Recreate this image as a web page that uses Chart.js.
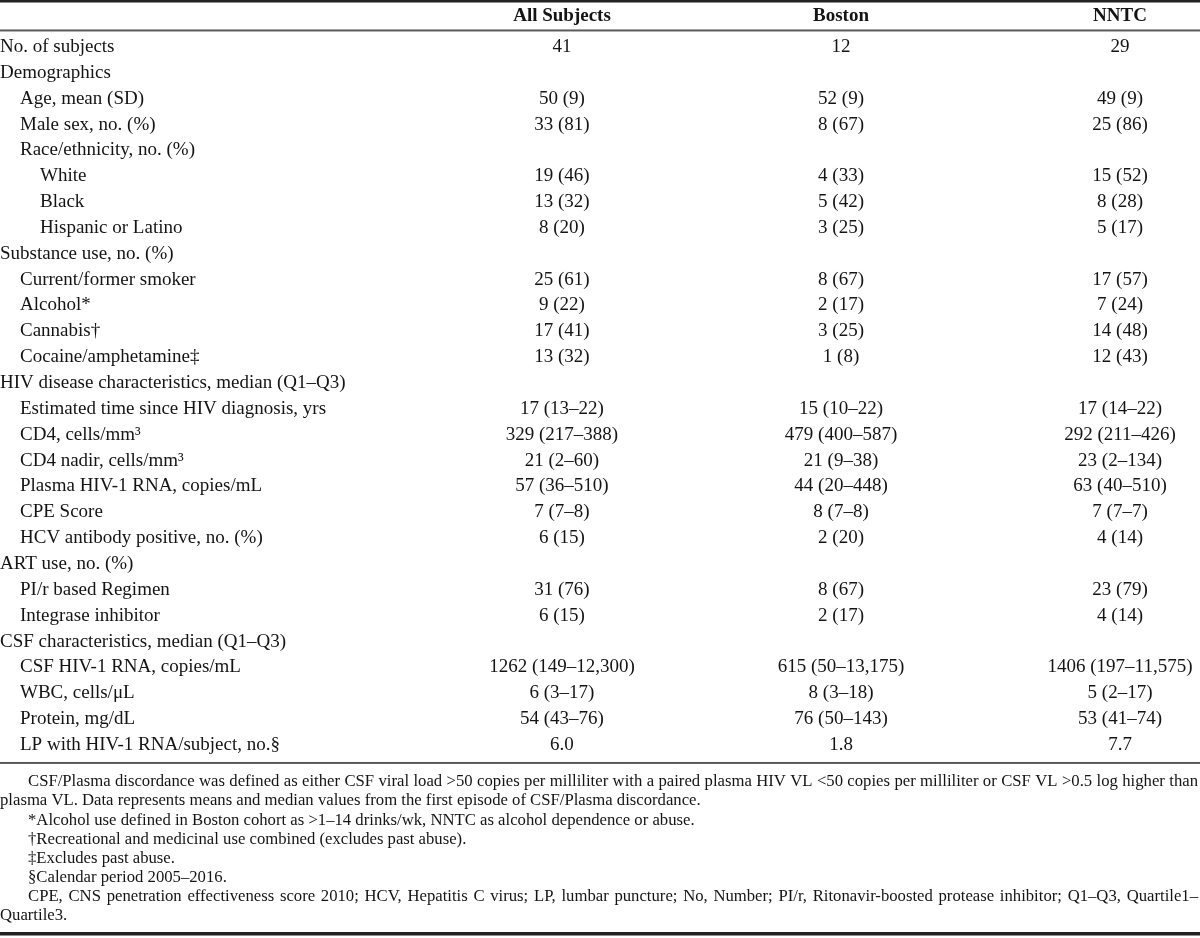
<!DOCTYPE html>
<html>
<head>
<meta charset="utf-8">
<script src="https://cdn.jsdelivr.net/npm/chart.js@4"></script>
<style>
  body { margin: 0; background: #fff; }
  canvas { display: block; }
</style>
</head>
<body>
<canvas id="tableChart" width="1200" height="938"></canvas>
<script>
// table content
const columnHeaders = ['All Subjects', 'Boston', 'NNTC'];

const rowLabels = [
  'No. of subjects',
  'Demographics',
  'Age, mean (SD)',
  'Male sex, no. (%)',
  'Race/ethnicity, no. (%)',
  'White',
  'Black',
  'Hispanic or Latino',
  'Substance use, no. (%)',
  'Current/former smoker',
  'Alcohol*',
  'Cannabis†',
  'Cocaine/amphetamine‡',
  'HIV disease characteristics, median (Q1–Q3)',
  'Estimated time since HIV diagnosis, yrs',
  'CD4, cells/mm³',
  'CD4 nadir, cells/mm³',
  'Plasma HIV-1 RNA, copies/mL',
  'CPE Score',
  'HCV antibody positive, no. (%)',
  'ART use, no. (%)',
  'PI/r based Regimen',
  'Integrase inhibitor',
  'CSF characteristics, median (Q1–Q3)',
  'CSF HIV-1 RNA, copies/mL',
  'WBC, cells/μL',
  'Protein, mg/dL',
  'LP with HIV-1 RNA/subject, no.§'
];

// 0 = section, 1 = item, 2 = sub-item
const rowLevels = [0, 0, 1, 1, 1, 2, 2, 2, 0, 1, 1, 1, 1, 0, 1, 1, 1, 1, 1, 1, 0, 1, 1, 0, 1, 1, 1, 1];

const allSubjects = [
  '41', '', '50 (9)', '33 (81)', '', '19 (46)', '13 (32)', '8 (20)',
  '', '25 (61)', '9 (22)', '17 (41)', '13 (32)',
  '', '17 (13–22)', '329 (217–388)', '21 (2–60)', '57 (36–510)', '7 (7–8)', '6 (15)',
  '', '31 (76)', '6 (15)',
  '', '1262 (149–12,300)', '6 (3–17)', '54 (43–76)', '6.0'
];
const boston = [
  '12', '', '52 (9)', '8 (67)', '', '4 (33)', '5 (42)', '3 (25)',
  '', '8 (67)', '2 (17)', '3 (25)', '1 (8)',
  '', '15 (10–22)', '479 (400–587)', '21 (9–38)', '44 (20–448)', '8 (7–8)', '2 (20)',
  '', '8 (67)', '2 (17)',
  '', '615 (50–13,175)', '8 (3–18)', '76 (50–143)', '1.8'
];
const nntc = [
  '29', '', '49 (9)', '25 (86)', '', '15 (52)', '8 (28)', '5 (17)',
  '', '17 (57)', '7 (24)', '14 (48)', '12 (43)',
  '', '17 (14–22)', '292 (211–426)', '23 (2–134)', '63 (40–510)', '7 (7–7)', '4 (14)',
  '', '23 (79)', '4 (14)',
  '', '1406 (197–11,575)', '5 (2–17)', '53 (41–74)', '7.7'
];

const footnotes = [
  ['CSF/Plasma discordance was defined as either CSF viral load >50 copies per milliliter with a paired plasma HIV VL <50 copies per milliliter or CSF VL >0.5 log higher than',
   'plasma VL. Data represents means and median values from the first episode of CSF/Plasma discordance.'],
  ['*Alcohol use defined in Boston cohort as >1–14 drinks/wk, NNTC as alcohol dependence or abuse.'],
  ['†Recreational and medicinal use combined (excludes past abuse).'],
  ['‡Excludes past abuse.'],
  ['§Calendar period 2005–2016.'],
  ['CPE, CNS penetration effectiveness score 2010; HCV, Hepatitis C virus; LP, lumbar puncture; No, Number; PI/r, Ritonavir-boosted protease inhibitor; Q1–Q3, Quartile1–',
   'Quartile3.']
];

const cells = [];
[allSubjects, boston, nntc].forEach((col, c) => {
  col.forEach((v, r) => {
    if (v !== '') cells.push({ x: c + 1, y: r, label: v });
  });
});

const serif = '"Liberation Serif", "Times New Roman", serif';
const ink = '#141414';

// draws a justified line between x0 and x1
function justifyLine(ctx, text, x0, x1, y) {
  const words = text.split(' ');
  const wordsW = words.reduce((s, w) => s + ctx.measureText(w).width, 0);
  const gap = (x1 - x0 - wordsW) / (words.length - 1);
  let x = x0;
  words.forEach(w => {
    ctx.fillText(w, x, y);
    x += ctx.measureText(w).width + gap;
  });
}

const tablePlugin = {
  id: 'tableText',
  afterDatasetsDraw(chart) {
    const { ctx, scales: { x, y }, chartArea } = chart;
    const left = chartArea.left;
    const right = chartArea.right;
    ctx.save();
    ctx.fillStyle = ink;
    ctx.textBaseline = 'middle';

    // header
    ctx.font = 'bold 19px ' + serif;
    ctx.textAlign = 'center';
    columnHeaders.forEach((h, c) => {
      ctx.fillText(h, x.getPixelForValue(c + 1), y.getPixelForValue(-1.2));
    });

    // row labels
    ctx.font = '19px ' + serif;
    ctx.textAlign = 'left';
    const indents = [0, 20, 40];
    rowLabels.forEach((lab, r) => {
      ctx.fillText(lab, left + indents[rowLevels[r]], y.getPixelForValue(r));
    });

    // cell values at the data points
    ctx.textAlign = 'center';
    const meta = chart.getDatasetMeta(0);
    meta.data.forEach((pt, i) => {
      ctx.fillText(chart.data.datasets[0].data[i].label, pt.x, pt.y);
    });

    // rules
    const lastRow = y.getPixelForValue(rowLabels.length - 1);
    ctx.fillStyle = '#222';
    ctx.fillRect(left, 0, right - left, 2.5);
    ctx.fillStyle = '#5a5a5a';
    ctx.fillRect(left, y.getPixelForValue(-0.64) - 1, right - left, 2);
    ctx.fillRect(left, lastRow + 17, right - left, 2);

    // footnotes
    ctx.fillStyle = ink;
    ctx.font = '16.7px ' + serif;
    ctx.textAlign = 'left';
    let fy = lastRow + 37;
    footnotes.forEach(par => {
      par.forEach((line, k) => {
        const x0 = left + (k === 0 ? 28 : 0);
        if (k < par.length - 1) justifyLine(ctx, line, x0, right - 2, fy);
        else ctx.fillText(line, x0, fy);
        fy += 19.1;
      });
    });

    ctx.fillStyle = '#222';
    ctx.fillRect(left, 932, right - left, 3.5);
    ctx.restore();
  }
};

new Chart(document.getElementById('tableChart'), {
  type: 'scatter',
  data: {
    datasets: [{ data: cells, pointRadius: 0, pointHoverRadius: 0 }]
  },
  options: {
    responsive: false,
    animation: false,
    events: [],
    layout: { padding: 0 },
    plugins: { legend: { display: false }, tooltip: { enabled: false } },
    scales: {
      x: { type: 'linear', display: false, min: -1.0143, max: 3.2867 },
      y: { type: 'linear', display: false, reverse: true, min: -1.8182, max: 34.468 }
    }
  },
  plugins: [tablePlugin]
});
</script>
</body>
</html>
